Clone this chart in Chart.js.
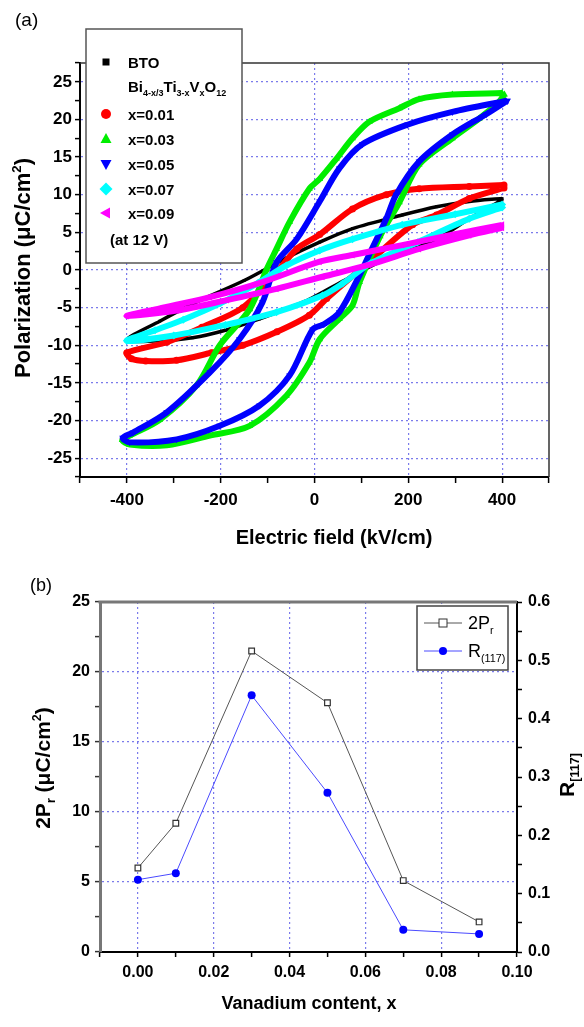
<!DOCTYPE html>
<html>
<head>
<meta charset="utf-8">
<script src="https://cdn.jsdelivr.net/npm/chart.js@4.4.0/dist/chart.umd.min.js"></script>
<style>
  body { margin: 0; background: #fff; width: 584px; height: 1027px; overflow: hidden; position: relative; }
  canvas { position: absolute; left: 0; }
</style>
</head>
<body>
<canvas id="loops" width="584" height="560" style="top:0;width:584px;height:560px"></canvas>
<canvas id="vanadium" width="584" height="467" style="top:560px;width:584px;height:467px"></canvas>
<script>
// (a) P-E loops, each array runs +Emax -> -Emax (upper branch) -> +Emax (lower branch)
const btoField = [400, 330, 260, 187, 81, 11, -60, -150, -250, -330, -400, -330, -260, -190, -117, -50, -11, 60, 153, 260, 330, 400];
const btoPol = [9.5, 9.1, 8.4, 7.3, 5.5, 3.7, 1.6, -1.4, -4.2, -6.8, -9.3, -9.4, -9.0, -8.0, -6.5, -4.9, -3.9, -1.5, 1.5, 4.1, 6.8, 9.3];

const x01Field = [404, 330, 223, 153, 81, 11, -38, -90, -153, -240, -315, -400, -390, -360, -294, -220, -153, -80, -11, 26, 117, 209, 260, 330, 404];
const x01Pol = [11.3, 11.1, 10.8, 10.0, 8.1, 4.7, 2.8, -1.0, -5.0, -7.6, -9.6, -11.0, -11.8, -12.1, -12.0, -11.0, -10.0, -8.2, -6.0, -3.8, 1.1, 6.0, 7.3, 9.5, 10.9];

const x03Field = [400, 294, 223, 181, 117, 81, 47, 11, -11, -53, -81, -102, -138, -202, -251, -330, -394, -410, -394, -315, -223, -138, -60, -11, 11, 53, 81, 96, 140, 181, 223, 294, 351, 394, 405];
const x03Pol = [23.5, 23.3, 22.7, 21.5, 19.7, 17.5, 14.8, 12.1, 10.8, 6.4, 2.8, 0.1, -5.2, -10.0, -15.3, -19.9, -22.0, -22.6, -23.2, -23.3, -22.0, -20.7, -16.7, -12.3, -9.2, -6.5, -4.7, -1.6, 4.5, 9.0, 14.0, 17.5, 20.1, 22.4, 23.3];

const x05Field = [411, 294, 198, 102, 53, 11, -38, -81, -111, -160, -223, -315, -387, -409, -394, -294, -202, -117, -53, -4, 20, 53, 96, 117, 153, 174, 223, 294, 366, 411];
const x05Pol = [22.5, 21.0, 19.3, 16.7, 13.5, 9.1, 4.1, 1.0, -4.3, -9.2, -13.6, -18.9, -21.6, -22.3, -22.9, -22.5, -20.7, -18.0, -14.0, -7.9, -7.2, -5.6, -0.7, 2.1, 6.8, 10.0, 14.4, 18.0, 20.7, 22.5];

const x07Field = [400, 300, 187, 81, 11, -60, -120, -200, -280, -340, -400, -300, -190, -81, 17, 60, 120, 220, 330, 400];
const x07Pol = [8.7, 7.4, 6.0, 4.1, 2.6, 0.6, -1.7, -4.4, -6.6, -8.0, -9.4, -8.7, -7.3, -5.6, -3.4, -1.8, 0.9, 3.7, 6.8, 8.3];

const x09Field = [400, 294, 187, 81, 11, -111, -223, -330, -400, -294, -187, -81, 17, 117, 223, 330, 400];
const x09Pol = [6.0, 4.7, 3.3, 2.0, 1.1, -1.6, -3.6, -5.1, -6.1, -5.4, -4.0, -2.5, -0.9, 0.7, 2.8, 4.6, 5.6];

// (b) remanent polarisation and (117) ratio vs vanadium content
const vanadium = [0, 0.01, 0.03, 0.05, 0.07, 0.09];
const twoPr = [6.0, 9.2, 21.5, 17.8, 5.1, 2.15];
const r117 = [0.124, 0.135, 0.44, 0.273, 0.038, 0.031];

const FONT = '"Liberation Sans", Arial, Helvetica, sans-serif';
const gridBlue = 'rgba(90, 90, 230, 0.8)';
const clear = 'rgba(0,0,0,0)';

const loopSeries = [
    { label: 'BTO', field: btoField, pol: btoPol, color: '#000000', style: 'rect', rot: 0, width: 3.5, r: 2, order: 5 },
    { label: 'x=0.01', field: x01Field, pol: x01Pol, color: '#ff0000', style: 'circle', rot: 0, width: 6, r: 3.5, order: 4 },
    { label: 'x=0.03', field: x03Field, pol: x03Pol, color: '#00ee00', style: 'triangle', rot: 0, width: 6, r: 4, order: 3 },
    { label: 'x=0.05', field: x05Field, pol: x05Pol, color: '#0000ff', style: 'triangle', rot: 180, width: 6, r: 4, order: 2 },
    { label: 'x=0.07', field: x07Field, pol: x07Pol, color: '#00ffff', style: 'rectRot', rot: 0, width: 6, r: 4, order: 1 },
    { label: 'x=0.09', field: x09Field, pol: x09Pol, color: '#ff00ff', style: 'triangle', rot: 270, width: 6, r: 4, order: 0 }
];

// text with sub/superscript parts: [[text, ''|'sub'|'sup'], ...]
function richText(ctx, parts, x, y, size, weight, align) {
    const small = size * 0.6;
    const fontOf = s => `${weight} ${s}px ${FONT}`;
    let total = 0;
    parts.forEach(([t, m]) => { ctx.font = fontOf(m ? small : size); total += ctx.measureText(t).width; });
    let cx = align === 'center' ? x - total / 2 : x;
    ctx.textAlign = 'left';
    ctx.textBaseline = 'alphabetic';
    parts.forEach(([t, m]) => {
        ctx.font = fontOf(m ? small : size);
        const dy = m === 'sub' ? size * 0.28 : (m === 'sup' ? -size * 0.42 : 0);
        ctx.fillText(t, cx, y + dy);
        cx += ctx.measureText(t).width;
    });
}

function rotatedText(ctx, parts, cx, cy, size, weight) {
    ctx.save();
    ctx.translate(cx, cy);
    ctx.rotate(-Math.PI / 2);
    richText(ctx, parts, 0, size * 0.36, size, weight, 'center');
    ctx.restore();
}

function marker(ctx, style, rot, x, y, r, color) {
    ctx.save();
    ctx.translate(x, y);
    ctx.rotate(rot * Math.PI / 180);
    ctx.fillStyle = color;
    ctx.beginPath();
    if (style === 'rect') {
        ctx.rect(-r, -r, 2 * r, 2 * r);
    } else if (style === 'circle') {
        ctx.arc(0, 0, r, 0, Math.PI * 2);
    } else if (style === 'rectRot') {
        ctx.moveTo(0, -r * 1.3); ctx.lineTo(r * 1.3, 0); ctx.lineTo(0, r * 1.3); ctx.lineTo(-r * 1.3, 0);
    } else {
        ctx.moveTo(0, -r * 1.2); ctx.lineTo(r * 1.1, r * 0.8); ctx.lineTo(-r * 1.1, r * 0.8);
    }
    ctx.closePath();
    ctx.fill();
    ctx.restore();
}

const loopDecor = {
    id: 'loopDecor',
    afterDraw(chart) {
        const { ctx, chartArea: a } = chart;
        ctx.save();
        ctx.strokeStyle = '#333';
        ctx.lineWidth = 1.5;
        ctx.beginPath();
        ctx.moveTo(a.left, a.top);
        ctx.lineTo(a.right, a.top);
        ctx.lineTo(a.right, a.bottom);
        ctx.stroke();

        ctx.fillStyle = '#000';
        richText(ctx, [['(a)', '']], 15, 26, 19, 'normal', 'left');
        rotatedText(ctx, [['Polarization (\u03bcC/cm', ''], ['2', 'sup'], [')', '']], 22, 268, 22, 'bold');
        richText(ctx, [['Electric field (kV/cm)', '']], 334, 544, 20, 'bold', 'center');

        // legend box
        ctx.fillStyle = '#fff';
        ctx.fillRect(86, 29, 156, 234);
        ctx.strokeStyle = '#555';
        ctx.lineWidth = 1.5;
        ctx.strokeRect(86, 29, 156, 234);

        const rows = [62, 114, 139, 164, 189, 213];
        loopSeries.forEach((s, i) => {
            marker(ctx, s.style, s.rot, 106, rows[i], i === 0 ? 3.5 : 5, s.color);
            ctx.fillStyle = '#000';
            richText(ctx, [[s.label, '']], 128, rows[i] + 5.5, 15, 'bold', 'left');
        });
        richText(ctx, [['Bi', ''], ['4-x/3', 'sub'], ['Ti', ''], ['3-x', 'sub'], ['V', ''], ['x', 'sub'], ['O', ''], ['12', 'sub']],
            128, 92, 15, 'bold', 'left');
        richText(ctx, [['(at 12 V)', '']], 110, 245, 15, 'bold', 'left');
        ctx.restore();
    }
};

new Chart(document.getElementById('loops'), {
    type: 'scatter',
    data: {
        datasets: loopSeries.map(s => ({
            label: s.label,
            data: s.field.map((e, i) => ({ x: e, y: s.pol[i] })),
            showLine: true,
            borderColor: s.color,
            backgroundColor: s.color,
            borderWidth: s.width,
            borderJoinStyle: 'round',
            pointStyle: s.style,
            pointRotation: s.rot,
            pointRadius: s.r,
            pointBorderWidth: 0,
            tension: 0.3,
            order: s.order
        }))
    },
    options: {
        responsive: false,
        animation: false,
        layout: { padding: { top: 63, right: 35, left: 0, bottom: 0 } },
        plugins: { legend: { display: false }, tooltip: { enabled: false } },
        scales: {
            x: {
                type: 'linear', min: -500, max: 500,
                ticks: {
                    stepSize: 100, autoSkip: false, maxRotation: 0, padding: 7, color: '#000',
                    font: { family: FONT, size: 17, weight: 'bold' },
                    callback: v => (v % 200 === 0 && Math.abs(v) < 500) ? v : ''
                },
                grid: {
                    color: c => (c.tick && c.tick.value % 200 === 0 && Math.abs(c.tick.value) < 500) ? gridBlue : clear,
                    lineWidth: 1.2, tickColor: '#000', tickLength: 6, tickWidth: 1.5
                },
                border: { color: '#000', width: 2, dash: [2, 3] },
                afterFit: s => { s.height = 83; }
            },
            y: {
                type: 'linear', min: -27.5, max: 27.5,
                ticks: {
                    stepSize: 2.5, autoSkip: false, padding: 3, color: '#000',
                    font: { family: FONT, size: 17, weight: 'bold' },
                    callback: v => (v % 5 === 0) ? v : ''
                },
                grid: {
                    color: c => (c.tick && c.tick.value % 5 === 0) ? gridBlue : clear,
                    lineWidth: 1.2, tickColor: '#000', tickLength: 5, tickWidth: 1.5
                },
                border: { color: '#000', width: 2, dash: [2, 3] },
                afterFit: s => { s.width = 80; }
            }
        }
    },
    plugins: [loopDecor]
});

const vanDecor = {
    id: 'vanDecor',
    afterDraw(chart) {
        const { ctx, chartArea: a } = chart;
        ctx.save();
        ctx.strokeStyle = '#777';
        ctx.lineWidth = 3;
        ctx.beginPath();
        ctx.moveTo(a.left - 1.5, a.top);
        ctx.lineTo(a.right, a.top);
        ctx.stroke();

        ctx.fillStyle = '#000';
        richText(ctx, [['(b)', '']], 30, 31, 18, 'normal', 'left');
        rotatedText(ctx, [['2P', ''], ['r', 'sub'], [' (\u03bcC/cm', ''], ['2', 'sup'], [')', '']], 42, 208, 21, 'bold');
        rotatedText(ctx, [['R', ''], ['[117]', 'sub']], 566, 215, 21, 'bold');
        richText(ctx, [['Vanadium content, x', '']], 309, 449, 18, 'bold', 'center');

        // legend box
        ctx.fillStyle = '#fff';
        ctx.fillRect(417, 46, 91, 64);
        ctx.strokeStyle = '#444';
        ctx.lineWidth = 1.5;
        ctx.strokeRect(417, 46, 91, 64);
        const items = [
            { y: 63, line: '#555', parts: [['2P', ''], ['r', 'sub']] },
            { y: 91, line: '#4a4aff', parts: [['R', ''], ['(117)', 'sub']] }
        ];
        items.forEach((it, i) => {
            ctx.strokeStyle = it.line;
            ctx.lineWidth = 1;
            ctx.beginPath();
            ctx.moveTo(424, it.y);
            ctx.lineTo(462, it.y);
            ctx.stroke();
            if (i === 0) {
                ctx.fillStyle = '#fff';
                ctx.fillRect(439, it.y - 4, 8, 8);
                ctx.strokeStyle = '#333';
                ctx.strokeRect(439, it.y - 4, 8, 8);
            } else {
                marker(ctx, 'circle', 0, 443, it.y, 4, '#0000ff');
            }
            ctx.fillStyle = '#000';
            richText(ctx, it.parts, 468, it.y + 6, 18, 'normal', 'left');
        });
        ctx.restore();
    }
};

new Chart(document.getElementById('vanadium'), {
    type: 'scatter',
    data: {
        datasets: [
            {
                label: '2Pr',
                data: vanadium.map((v, i) => ({ x: v, y: twoPr[i] })),
                yAxisID: 'y',
                showLine: true,
                borderColor: '#555',
                borderWidth: 1,
                pointStyle: 'rect',
                pointRadius: 4,
                pointBackgroundColor: '#fff',
                pointBorderColor: '#333',
                pointBorderWidth: 1.2
            },
            {
                label: 'R(117)',
                data: vanadium.map((v, i) => ({ x: v, y: r117[i] })),
                yAxisID: 'y1',
                showLine: true,
                borderColor: '#4a4aff',
                borderWidth: 1,
                pointStyle: 'circle',
                pointRadius: 4,
                pointBackgroundColor: '#0000ff',
                pointBorderColor: '#0000ff',
                pointBorderWidth: 0
            }
        ]
    },
    options: {
        responsive: false,
        animation: false,
        layout: { padding: { top: 42, right: 0, left: 0, bottom: 0 } },
        plugins: { legend: { display: false }, tooltip: { enabled: false } },
        scales: {
            x: {
                type: 'linear', min: -0.01, max: 0.10,
                ticks: {
                    stepSize: 0.01, autoSkip: false, maxRotation: 0, padding: 6, color: '#000',
                    font: { family: FONT, size: 16, weight: 'bold' },
                    callback: v => {
                        const k = Math.round(v * 100);
                        return (k >= 0 && k % 2 === 0) ? (k / 100).toFixed(2) : '';
                    }
                },
                grid: {
                    color: c => {
                        const k = c.tick ? Math.round(c.tick.value * 100) : -1;
                        return (k >= 0 && k % 2 === 0 && k < 10) ? gridBlue : clear;
                    },
                    lineWidth: 1.2, tickColor: '#000', tickLength: 5, tickWidth: 1.5
                },
                border: { color: '#000', width: 2, dash: [2, 3] },
                afterFit: s => { s.height = 75; }
            },
            y: {
                type: 'linear', position: 'left', min: 0, max: 25,
                ticks: {
                    stepSize: 2.5, autoSkip: false, padding: 5, color: '#000',
                    font: { family: FONT, size: 16, weight: 'bold' },
                    callback: v => (v % 5 === 0) ? v : ''
                },
                grid: {
                    color: c => (c.tick && c.tick.value % 5 === 0 && c.tick.value > 0 && c.tick.value < 25) ? gridBlue : clear,
                    lineWidth: 1.2, tickColor: '#333', tickLength: 5, tickWidth: 1.5
                },
                border: { color: '#777', width: 3, dash: [2, 3] },
                afterFit: s => { s.width = 100; }
            },
            y1: {
                type: 'linear', position: 'right', min: 0, max: 0.6,
                ticks: {
                    stepSize: 0.05, autoSkip: false, padding: 6, color: '#000',
                    font: { family: FONT, size: 16, weight: 'bold' },
                    callback: v => {
                        const k = Math.round(v * 100);
                        return (k % 10 === 0) ? (k / 100).toFixed(1) : '';
                    }
                },
                grid: { drawOnChartArea: false, tickColor: '#000', tickLength: 5, tickWidth: 1.5 },
                border: { color: '#000', width: 2 },
                afterFit: s => { s.width = 67; }
            }
        }
    },
    plugins: [vanDecor]
});
</script>
</body>
</html>
